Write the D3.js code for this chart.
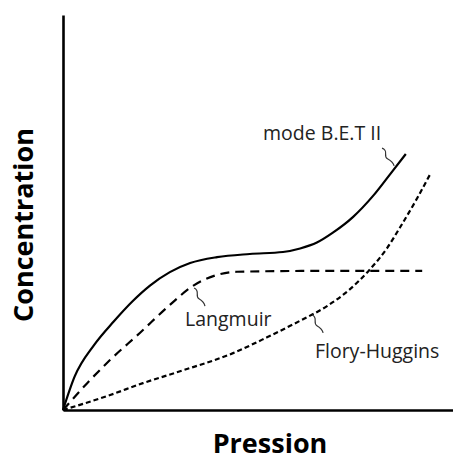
<!DOCTYPE html>
<html>
<head>
<meta charset="utf-8">
<script src="https://cdn.jsdelivr.net/npm/d3@7"></script>
<style>
  body { margin: 0; background: #fff; }
  svg { display: block; }
</style>
</head>
<body>
<div id="chart"></div>
<script>
// isotherm shapes, arbitrary units (pressure 0-100, concentration 0-100)
const betX = [0, 3, 8, 13, 17.9, 22.3, 27.4, 32.6, 39.5, 47.9, 56.4, 60.8, 65.1, 69.2, 74.4, 79.5, 83.8, 87.9];
const betY = [0, 8.5, 16.5, 22.4, 27.6, 31.5, 34.9, 37.2, 38.7, 39.5, 40.0, 40.9, 42.4, 44.9, 48.9, 54.2, 59.6, 64.8];

const langX = [0, 6.2, 12.1, 19.7, 27.4, 33.3, 39.5, 44.6, 63.3, 92.1];
const langY = [0, 6.8, 12.7, 19.5, 26.6, 31.4, 34.2, 35.0, 35.2, 35.2];

const floryX = [0, 12.1, 20.5, 30.0, 43.6, 52.3, 60.8, 67.7, 73.6, 78.7, 83.1, 86.4, 90.8, 94.1];
const floryY = [0, 3.8, 6.8, 9.8, 14.4, 18.4, 22.6, 26.3, 30.6, 35.6, 41.0, 46.2, 53.6, 59.6];

const labels = ["mode B.E.T II", "Langmuir", "Flory-Huggins"];
const xTitle = "Pression";
const yTitle = "Concentration";

const width = 453, height = 461;
const margin = { top: 15, right: 0, bottom: 51, left: 63 };

const x = d3.scaleLinear().domain([0, 100]).range([margin.left, width - margin.right]);
const y = d3.scaleLinear().domain([0, 100]).range([height - margin.bottom, margin.top]);

const svg = d3.select("#chart").append("svg")
  .attr("width", width)
  .attr("height", height);

// series, with dash style
const series = [
  { xs: betX, ys: betY, dash: null },
  { xs: langX, ys: langY, dash: "9,6" },
  { xs: floryX, ys: floryY, dash: "5,3" }
];

const line = d3.line()
  .x(d => x(d[0]))
  .y(d => y(d[1]))
  .curve(d3.curveMonotoneX);

series.forEach(s => {
  svg.append("path")
    .datum(s.xs.map((v, i) => [v, s.ys[i]]))
    .attr("fill", "none")
    .attr("stroke", "#000")
    .attr("stroke-width", 2.2)
    .attr("stroke-dasharray", s.dash)
    .attr("d", line);
});

// axes: plain lines, no ticks
svg.append("g")
  .attr("transform", `translate(0,${y(0)})`)
  .call(d3.axisBottom(x).tickValues([]).tickSizeOuter(0))
  .select(".domain").attr("stroke-width", 2.6);

svg.append("g")
  .attr("transform", `translate(${x(0)},0)`)
  .call(d3.axisLeft(y).tickValues([]).tickSizeOuter(0))
  .select(".domain").attr("stroke-width", 2.6);

// labels with small curly leaders (text pos, leader top, leader bottom)
const notes = [
  { text: labels[0], tx: 51.3, ty: 68.4, sx: 81.8, sy: 66.3, ex: 84.9, ey: 61.8 },
  { text: labels[1], tx: 31.3, ty: 21.3, sx: 33.6, sy: 30.9, ex: 36.4, ey: 26.3 },
  { text: labels[2], tx: 64.6, ty: 13.2, sx: 63.8, sy: 24.1, ex: 66.7, ey: 19.5 }
];

notes.forEach(n => {
  svg.append("text")
    .attr("x", x(n.tx))
    .attr("y", y(n.ty))
    .attr("font-family", "'Open Sans', sans-serif")
    .attr("font-size", 19.5)
    .attr("fill", "#222")
    .text(n.text);

  const x0 = x(n.sx), y0 = y(n.sy), x1 = x(n.ex), y1 = y(n.ey);
  const dx = x1 - x0, dy = y1 - y0;
  svg.append("path")
    .attr("fill", "none")
    .attr("stroke", "#333")
    .attr("stroke-width", 1.2)
    .attr("d", `M${x0},${y0} C${x0 + dx * 0.6},${y0 + dy * 0.15} ${x0 + dx * 0.05},${y0 + dy * 0.45} ${x0 + dx * 0.45},${y0 + dy * 0.6} S${x1 - dx * 0.05},${y1 - dy * 0.15} ${x1},${y1}`);
});

// axis titles
svg.append("text")
  .attr("x", 270)
  .attr("y", 453)
  .attr("text-anchor", "middle")
  .attr("font-family", "'Open Sans', sans-serif")
  .attr("font-weight", "bold")
  .attr("font-size", 27)
  .text(xTitle);

svg.append("text")
  .attr("transform", "translate(33,225) rotate(-90)")
  .attr("text-anchor", "middle")
  .attr("font-family", "'Open Sans', sans-serif")
  .attr("font-weight", "bold")
  .attr("font-size", 27)
  .text(yTitle);
</script>
</body>
</html>
